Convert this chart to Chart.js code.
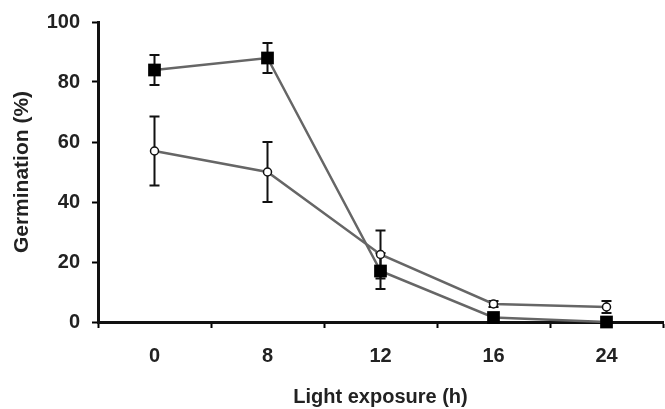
<!DOCTYPE html>
<html>
<head>
<meta charset="utf-8">
<script src="https://cdn.jsdelivr.net/npm/chart.js@4"></script>
<style>
  html, body { margin: 0; padding: 0; background: #fff; overflow: hidden; }
  #wrap { width: 665px; height: 409px; position: relative; }
  canvas { display: block; }
</style>
</head>
<body>
<div id="wrap"><canvas id="germChart"></canvas></div>
<script>
// categories (light exposure, h)
const hours = ['0', '8', '12', '16', '24'];
// filled squares
const filledMean = [84, 88, 17, 1.5, 0];
const filledErr = [5, 5, 6, 0, 0];
// open circles
const openMean = [57, 50, 22.5, 6, 5];
const openErr = [11.5, 10, 8, 1, 2];
const yTicks = [0, 20, 40, 60, 80, 100];

const FONT = 'Liberation Sans, Arial, sans-serif';

// error bars drawn from the data arrays through the y scale
const errorBars = {
    id: 'errorBars',
    beforeDatasetsDraw(chart) {
        const ctx = chart.ctx;
        const xs = chart.scales.x, ys = chart.scales.y;
        const sets = [[openMean, openErr], [filledMean, filledErr]];
        ctx.save();
        ctx.strokeStyle = '#111';
        ctx.lineWidth = 2;
        sets.forEach(([mean, err]) => {
            mean.forEach((m, i) => {
                if (!err[i]) return;
                const x = xs.getPixelForValue(i);
                const yTop = ys.getPixelForValue(m + err[i]);
                const yBot = ys.getPixelForValue(m - err[i]);
                ctx.beginPath();
                ctx.moveTo(x, yTop); ctx.lineTo(x, yBot);
                ctx.moveTo(x - 5, yTop); ctx.lineTo(x + 5, yTop);
                ctx.moveTo(x - 5, yBot); ctx.lineTo(x + 5, yBot);
                ctx.stroke();
            });
        });
        ctx.restore();
    }
};

const ctx = document.getElementById('germChart').getContext('2d');
new Chart(ctx, {
    type: 'line',
    data: {
        labels: hours,
        datasets: [
            {
                label: 'open',
                data: openMean,
                borderColor: '#666',
                borderWidth: 2.5,
                pointStyle: 'circle',
                pointRadius: 4,
                pointBackgroundColor: '#fff',
                pointBorderColor: '#111',
                pointBorderWidth: 1.5,
                tension: 0,
                clip: false
            },
            {
                label: 'filled',
                data: filledMean,
                borderColor: '#666',
                borderWidth: 2.5,
                pointStyle: 'rect',
                pointRadius: 9,
                pointBackgroundColor: '#000',
                pointBorderColor: '#000',
                pointBorderWidth: 0,
                tension: 0,
                clip: false
            }
        ]
    },
    options: {
        responsive: true,
        maintainAspectRatio: false,
        animation: false,
        layout: { autoPadding: false, padding: { top: 22, right: 2, left: 0, bottom: 0 } },
        plugins: { legend: { display: false }, tooltip: { enabled: false } },
        scales: {
            x: {
                offset: true,
                grid: { offset: true, drawOnChartArea: false, drawTicks: true, tickLength: 6, tickWidth: 2, color: '#000' },
                border: { color: '#111', width: 3 },
                ticks: { color: '#222', font: { family: FONT, size: 20, weight: 'bold' }, padding: 16 },
                title: { display: true, text: 'Light exposure (h)', color: '#222', font: { family: FONT, size: 20, weight: 'bold' }, padding: { top: 0, bottom: 0 } },
                afterFit(scale) { scale.height = 87; scale.paddingLeft = 0; scale.paddingRight = 0; }
            },
            y: {
                min: 0,
                max: 100,
                afterBuildTicks(scale) { scale.ticks = yTicks.map(v => ({ value: v })); },
                grid: { drawOnChartArea: false, drawTicks: true, tickLength: 6, tickWidth: 2, color: '#000' },
                border: { color: '#111', width: 3 },
                ticks: { color: '#222', font: { family: FONT, size: 20, weight: 'bold' }, padding: 12 },
                title: { display: true, text: 'Germination (%)', color: '#222', font: { family: FONT, size: 21, weight: 'bold' }, padding: { top: 10, bottom: 0 } },
                afterFit(scale) { scale.width = 98; scale.paddingTop = 0; scale.paddingBottom = 0; }
            }
        }
    },
    plugins: [errorBars]
});
</script>
</body>
</html>
